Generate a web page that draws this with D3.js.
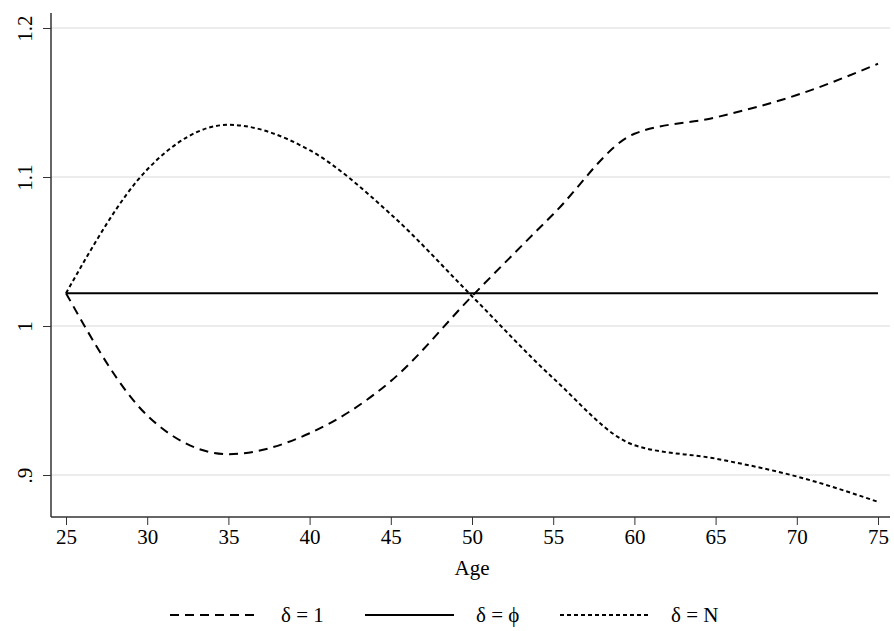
<!DOCTYPE html><html><head><meta charset="utf-8"><script src="https://cdn.jsdelivr.net/npm/d3@7"></script>
<style>body{margin:0;background:#fff}text{font-family:"Liberation Serif","DejaVu Serif",serif}</style></head><body><svg width="894" height="631"></svg>
<script>
const ages=[25,30,35,40,45,50,55,60,65,70,75];
const delta1=[1.022,0.94,0.914,0.928,0.963,1.02,1.075,1.129,1.140,1.155,1.176];
const deltaPhi=[1.022,1.022,1.022,1.022,1.022,1.022,1.022,1.022,1.022,1.022,1.022];
const deltaN=[1.022,1.105,1.135,1.118,1.075,1.02,0.965,0.920,0.911,0.899,0.882];
const yTicks=[0.9,1,1.1,1.2];
const yLabels=[".9","1","1.1","1.2"];
const xTicks=[25,30,35,40,45,50,55,60,65,70,75];
const series=[{name:"δ = 1",v:delta1,dash:"9,6"},{name:"δ = ϕ",v:deltaPhi,dash:null},{name:"δ = N",v:deltaN,dash:"4,3"}];
const svg=d3.select("svg");
const x=d3.scaleLinear().domain([25,75]).range([66,878]);
const y=d3.scaleLinear().domain([1,1.1]).range([326,177]);
const L=51,R=890,T=13,B=517,FS=21;
svg.append("g").selectAll("line").data(yTicks).join("line").attr("x1",L).attr("x2",R).attr("y1",d=>y(d)).attr("y2",d=>y(d)).attr("stroke","#e6e6e6").attr("stroke-width",1.5);
const ya=svg.append("g").attr("transform",`translate(${L},0)`).call(d3.axisLeft(y).tickValues(yTicks).tickFormat((d,i)=>yLabels[i]).tickSize(8).tickSizeOuter(0));
ya.select(".domain").attr("d",`M0,${T}V${B}`).attr("stroke","#333").attr("stroke-width",1.5);
ya.selectAll(".tick line").attr("stroke","#333");
ya.selectAll(".tick text").attr("font-size",FS).attr("fill","#000").attr("transform","rotate(-90)").attr("x",0).attr("y",-19).attr("dy",0).attr("text-anchor","middle");
const xa=svg.append("g").attr("transform",`translate(0,${B})`).call(d3.axisBottom(x).tickValues(xTicks).tickSize(8).tickSizeOuter(0));
xa.select(".domain").attr("d",`M${L},0H${R}`).attr("stroke","#333").attr("stroke-width",1.5);
xa.selectAll(".tick line").attr("stroke","#333");
xa.selectAll(".tick text").attr("font-size",FS).attr("fill","#000").attr("y",12);
svg.append("text").attr("x",472).attr("y",575).attr("text-anchor","middle").attr("font-size",FS).text("Age");
const line=d3.line().x((d,i)=>x(ages[i])).y(d=>y(d)).curve(d3.curveMonotoneX);
series.forEach(s=>{svg.append("path").attr("d",line(s.v)).attr("fill","none").attr("stroke","#000").attr("stroke-width",2).attr("stroke-dasharray",s.dash);});
const lg=[170,365,560];
series.forEach((s,i)=>{svg.append("line").attr("x1",lg[i]).attr("x2",lg[i]+89).attr("y1",615).attr("y2",615).attr("stroke","#000").attr("stroke-width",2).attr("stroke-dasharray",s.dash);
svg.append("text").attr("x",lg[i]+111).attr("y",622).attr("font-size",FS).text(s.name);});
</script></body></html>
